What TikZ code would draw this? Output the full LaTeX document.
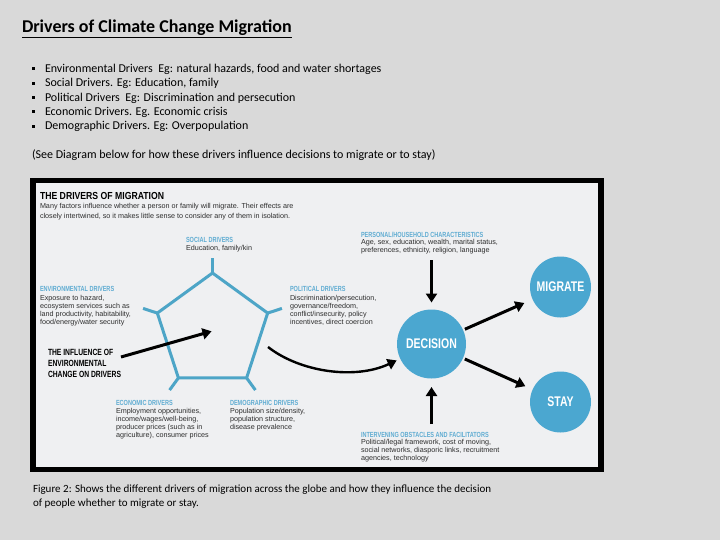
\documentclass[tikz,border=0pt]{standalone}
\usepackage{fontspec}
\setmainfont{Carlito}
\newfontfamily\bodyfont{Liberation Sans}
\newfontfamily\headfont[FakeStretch=0.75]{Liberation Sans}
\newfontfamily\titlefont[FakeStretch=0.85]{Liberation Sans}
\usetikzlibrary{arrows.meta,positioning}
\definecolor{pagebg}{RGB}{217,217,217}
\definecolor{panel}{RGB}{239,240,242}
\definecolor{circblue}{RGB}{75,167,208}
\definecolor{lineblue}{RGB}{77,165,199}
\definecolor{lblblue}{RGB}{95,172,210}
\definecolor{txtgray}{RGB}{45,45,45}

\begin{document}
\begin{tikzpicture}[x=1pt,y=-1pt,>={Triangle[length=9pt,width=11pt]},
  every node/.style={inner sep=0pt,outer sep=0pt},
  hd/.style={font=\headfont\bfseries\fontsize{7.4}{8}\selectfont,text=lblblue,anchor=base west},
  body/.style={font=\bodyfont\fontsize{7.2}{7.8}\selectfont,text=txtgray,align=left,anchor=north west},
  choice/.style={circle,fill=circblue,text=white,minimum size=61pt,
    font=\headfont\bfseries\fontsize{14}{14}\selectfont},
  bigarr/.style={->,line width=3pt,black},
  pentline/.style={lineblue,line width=3pt}]
\fill[pagebg] (0,0) rectangle (720,540);
\useasboundingbox (0,0) rectangle (720,540);

% slide text
\node[font=\bfseries\fontsize{18}{20}\selectfont,anchor=base west] (title) at (22,33)
  {\underline{Drivers of Climate Change Migration}};
\foreach \txt [count=\i] in {{Environmental Drivers\ \ Eg: natural hazards, food and water shortages},
    {Social Drivers. Eg: Education, family},
    {Political Drivers\ \ Eg: Discrimination and persecution},
    {Economic Drivers. Eg. Economic crisis},
    {Demographic Drivers. Eg: Overpopulation}} {
  \node[font=\fontsize{12}{14}\selectfont,anchor=base west] (b\i) at (45,72.3+14.4*\i-14.4) {\txt};
  \fill (32,67.2+14.4*\i-14.4) rectangle ++(3,3);
}
\node[font=\fontsize{12}{14}\selectfont,anchor=base west] (see) at (32,159)
  {(See Diagram below for how these drivers influence decisions to migrate or to stay)};
\node[font=\fontsize{11}{14}\selectfont,align=left,anchor=north west] (caption) at (33,485)
  {Figure 2: Shows the different drivers of migration across the globe and how they influence the decision\\
   of people whether to migrate or stay.};

% panel
\fill[black] (30,178) rectangle (604,472);
\fill[panel] (36,183) rectangle (598,467);
\node[font=\titlefont\bfseries\fontsize{10.2}{12}\selectfont,anchor=base west] (dtitle) at (40,200)
  {THE DRIVERS OF MIGRATION};
\node[body,font=\bodyfont\fontsize{7.2}{9.5}\selectfont] (intro) at (40,203.5)
  {Many factors influence whether a person or family will migrate. Their effects are\\
   closely intertwined, so it makes little sense to consider any of them in isolation.};

% drivers
\node[hd] (soc) at (186,242.7) {SOCIAL DRIVERS};
\node[body] (soc-t) at (186,245.5) {Education, family/kin};
\node[hd] (env) at (40,291) {ENVIRONMENTAL DRIVERS};
\node[body] (env-t) at (40,295.6) {Exposure to hazard,\\ ecosystem services such as\\
  land productivity, habitability,\\ food/energy/water security};
\node[hd] (pol) at (290,291) {POLITICAL DRIVERS};
\node[body] (pol-t) at (290,295.6) {Discrimination/persecution,\\ governance/freedom,\\
  conflict/insecurity, policy\\ incentives, direct coercion};
\node[hd] (eco) at (116,405) {ECONOMIC DRIVERS};
\node[body] (eco-t) at (116,408.6) {Employment opportunities,\\ income/wages/well-being,\\
  producer prices (such as in\\ agriculture), consumer prices};
\node[hd] (dem) at (230,405) {DEMOGRAPHIC DRIVERS};
\node[body] (dem-t) at (230,408.6) {Population size/density,\\ population structure,\\ disease prevalence};
\node[hd] (pers) at (361,237) {PERSONAL/HOUSEHOLD CHARACTERISTICS};
\node[body] (pers-t) at (361,239.6) {Age, sex, education, wealth, marital status,\\
  preferences, ethnicity, religion, language};
\node[hd] (obst) at (361,437) {INTERVENING OBSTACLES AND FACILITATORS};
\node[body] (obst-t) at (361,439.6) {Political/legal framework, cost of moving,\\
  social networks, diasporic links, recruitment\\ agencies, technology};
\node[font=\headfont\bfseries\fontsize{9}{10.8}\selectfont,align=left,anchor=north west] (infl) at (48,349.5)
  {THE INFLUENCE OF\\ ENVIRONMENTAL\\ CHANGE ON DRIVERS};

% pentagon
\coordinate (pent) at (212.5,331);
\draw[pentline,shift={(pent)}] (-90:58) -- (-18:58) -- (54:58) -- (126:58) -- (198:58) -- cycle;
\foreach \a in {-90,-18,54,126,198}
  \draw[pentline,shift={(pent)}] (\a:58) -- (\a:73);

% decision
\node[choice,minimum size=69pt] (dec) at (431.5,344) {DECISION};
\node[choice] (mig) at (560.5,287) {MIGRATE};
\node[choice] (stay) at (560.5,402) {STAY};

\coordinate (perstop) at (431.5,260);
\coordinate (obstbot) at (431.5,424);
\coordinate (inftail) at (121,357);
\coordinate (polfoot) at (268,347);
\draw[bigarr,shorten >=7pt] (perstop) -- (dec);
\draw[bigarr,shorten >=8.5pt] (obstbot) -- (dec);
\draw[bigarr,shorten <=2pt,shorten >=9pt] (dec) -- (mig);
\draw[bigarr,shorten <=2pt,shorten >=8pt] (dec) -- (stay);
\draw[bigarr,shorten >=1pt] (inftail) -- (pent);
\draw[->,line width=2.4pt,shorten >=4pt] (polfoot) .. controls (300,372) and (355,380) .. (dec);
\end{tikzpicture}
\end{document}
